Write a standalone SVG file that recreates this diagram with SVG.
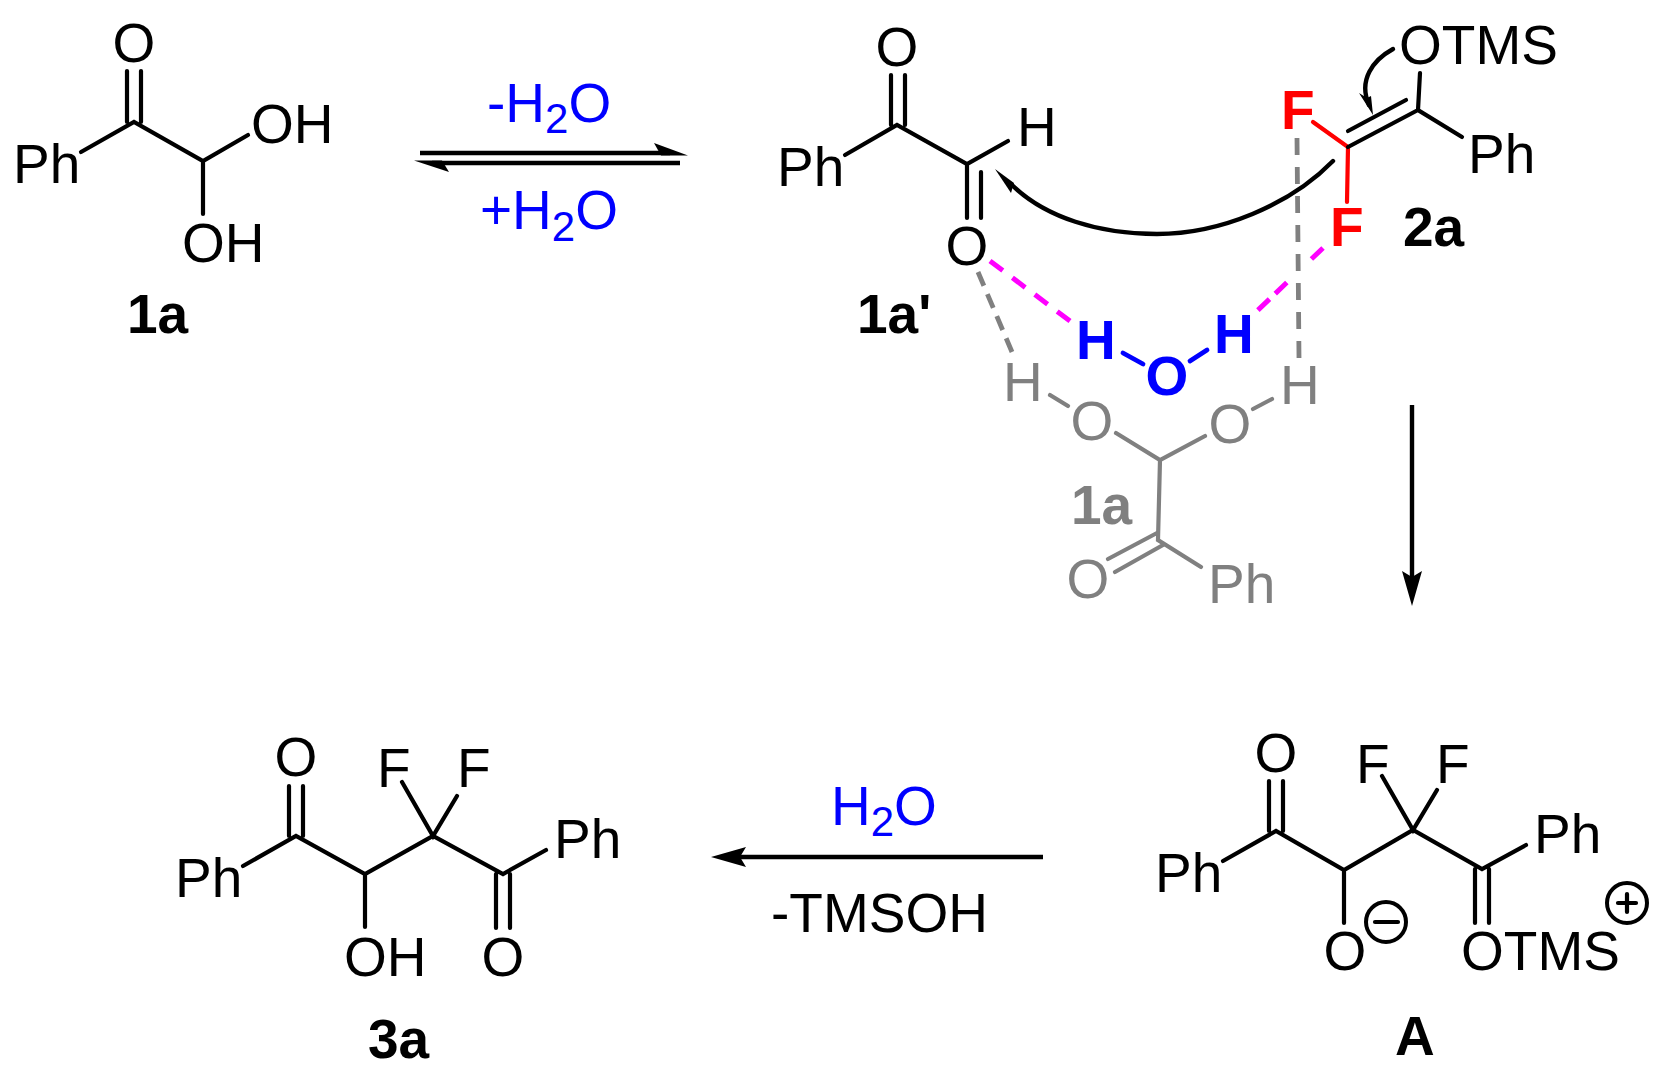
<svg xmlns="http://www.w3.org/2000/svg" width="1665" height="1087" viewBox="0 0 1665 1087">
<defs>
<style>
text{font-family:"Liberation Sans",Arial,sans-serif;font-size:55px;fill:#000}
.b{font-weight:bold}
.blue,.blue text{fill:#0000ff}
.gray text{fill:#808080}
.red{fill:#ff0000}
.sub{font-size:42px}
.bond{stroke:#000;stroke-width:4.2;stroke-linecap:round;fill:none}
.gray .bond{stroke:#808080}
.redbond{stroke:#ff0000;stroke-width:4.2;stroke-linecap:round;fill:none}
.bluebond{stroke:#0000ff;stroke-width:4.8;stroke-linecap:round;fill:none}
.arrow{stroke:#000;stroke-width:4.4;fill:none}
.curve{stroke:#000;stroke-width:4.4;fill:none;stroke-linecap:round}
.hb{stroke:#ff00ff;stroke-width:5;fill:none}
.gd{stroke:#808080;stroke-width:4.8;fill:none}
.ring{stroke:#000;stroke-width:4;fill:none}
</style>
<marker id="head" markerUnits="userSpaceOnUse" markerWidth="40" markerHeight="24" refX="6" refY="10" orient="auto">
<path d="M0,0 L35,10 L0,20 L6,10 Z" fill="#000"/>
</marker>
</defs>
<rect width="1665" height="1087" fill="#fff"/>

<g id="node-1a">
<path class="bond" d="M127,71V122M141,71V122M81,152L134,122L203,161L248,135M203,161V214"/>
<text x="134" y="62" text-anchor="middle">O</text>
<text x="13" y="183">Ph</text>
<text x="251" y="143">OH</text>
<text x="182" y="262">OH</text>
<text class="b" x="127" y="333">1a</text>
</g>

<g id="node-1a-prime">
<path class="bond" d="M891,75V125M905,75V125M845,155L897,125L967,164L1008,141M967,164V218M981,172V218"/>
<text x="897" y="66" text-anchor="middle">O</text>
<text x="777" y="186">Ph</text>
<text x="1017" y="146">H</text>
<text x="967" y="265" text-anchor="middle">O</text>
<text class="b" x="857" y="333">1a'</text>
</g>

<g id="node-2a">
<path class="redbond" d="M1313,122L1348,147L1347,202"/>
<path class="bond" d="M1348,147L1418,110M1348,131L1406,100M1420,73L1418,110L1462,137"/>
<text class="b red" x="1281" y="129">F</text>
<text class="b red" x="1330" y="246">F</text>
<text x="1399" y="64">OTMS</text>
<text x="1468" y="173">Ph</text>
<text class="b" x="1403" y="246">2a</text>
</g>

<g id="node-water" class="blue">
<path class="bluebond" d="M1123,353L1143,364M1190,361L1207,350"/>
<text class="b" x="1076" y="359">H</text>
<text class="b" x="1214" y="353">H</text>
<text class="b" x="1167" y="395" text-anchor="middle">O</text>
</g>

<g id="node-1a-gray" class="gray">
<path class="bond" d="M1050,395L1068,406M1116,433L1160,460L1205,436M1253,409L1272,399M1160,460L1158,540L1201,567M1157,533L1108,559M1163,545L1115,572"/>
<text x="1003" y="401">H</text>
<text x="1092" y="440" text-anchor="middle">O</text>
<text x="1230" y="443" text-anchor="middle">O</text>
<text x="1280" y="404">H</text>
<text class="b" x="1071" y="524">1a</text>
<text x="1088" y="598" text-anchor="middle">O</text>
<text x="1208" y="603">Ph</text>
</g>

<g id="node-3a">
<path class="bond" d="M289,786V836M303,786V836M243,866L296,836L365,874L433,836L503,874L546,850M365,874V927M402,782L433,836L457,796M496,874V928M510,874V928"/>
<text x="296" y="776" text-anchor="middle">O</text>
<text x="175" y="897">Ph</text>
<text x="344" y="976">OH</text>
<text x="377" y="787">F</text>
<text x="457" y="787">F</text>
<text x="554" y="858">Ph</text>
<text x="503" y="976" text-anchor="middle">O</text>
<text class="b" x="368" y="1058">3a</text>
</g>

<g id="node-A">
<path class="bond" d="M1269,781V831M1283,781V831M1223,861L1276,831L1344,870L1413,830L1482,869L1526,845M1344,870V923M1382,776L1413,830L1437,790M1475,869V923M1489,869V923"/>
<text x="1276" y="772" text-anchor="middle">O</text>
<text x="1155" y="892">Ph</text>
<text x="1345" y="970" text-anchor="middle">O</text>
<circle class="ring" cx="1386" cy="922" r="20"/>
<path class="bond" d="M1375,922H1398"/>
<text x="1356" y="783">F</text>
<text x="1436" y="783">F</text>
<text x="1534" y="853">Ph</text>
<text x="1461" y="970">OTMS</text>
<circle class="ring" cx="1627" cy="903" r="20"/>
<path class="bond" d="M1618,903H1636M1627,894V912"/>
<text class="b" x="1395" y="1055">A</text>
</g>

<g id="labels">
<text class="blue" x="487" y="122">-H<tspan class="sub" dy="11">2</tspan><tspan dy="-11">O</tspan></text>
<text class="blue" x="480" y="229">+H<tspan class="sub" dy="12">2</tspan><tspan dy="-12">O</tspan></text>
<text class="blue" x="831" y="825">H<tspan class="sub" dy="11">2</tspan><tspan dy="-11">O</tspan></text>
<text x="771" y="932">-TMSOH</text>
</g>

<g id="connectors">
<path class="arrow" d="M420,153H670"/>
<polygon points="688,155.500 654,143 661,155.500"/>
<path class="arrow" d="M432,163H680"/>
<polygon points="414,160.500 449,172 442,160.500"/>
<path class="arrow" d="M1412,405V577" marker-end="url(#head)"/>
<path class="arrow" d="M1043,857H740" marker-end="url(#head)"/>
<path class="curve" d="M1333,161C1290,205 1220,234 1157,234C1100,234 1045,218 1011,184"/>
<polygon points="995,169 1011,193 1014,183"/>
<path class="curve" d="M1393,49C1373,60 1358,80 1369,105"/>
<polygon points="1373,115 1359,93 1367,98 1371,96"/>
<path class="hb" d="M990,261L1070,321" stroke-dasharray="16 12"/>
<path class="hb" d="M1323,248L1257,311" stroke-dasharray="16 34 16 8 16"/>
<path class="gd" d="M978,272L1012,352" stroke-dasharray="15 9"/>
<path class="gd" d="M1297,138L1299,358" stroke-dasharray="17 12"/>
</g>
</svg>
